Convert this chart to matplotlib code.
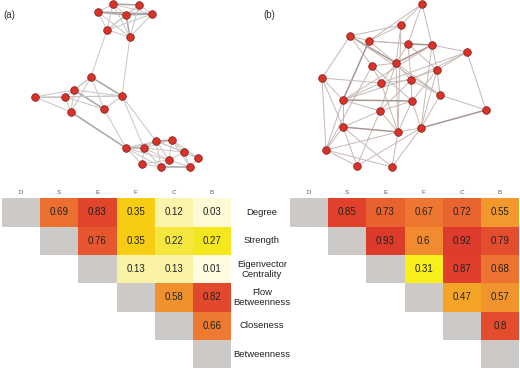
import numpy as np
import matplotlib
matplotlib.use("Agg")
import matplotlib.pyplot as plt
from matplotlib.colors import LinearSegmentedColormap

plt.rcParams['font.family'] = ['Liberation Sans', 'DejaVu Sans']

# ---------------- data ----------------
col_labels = ['D', 'S', 'E', 'F', 'C', 'B']
row_labels = ['Degree', 'Strength', 'Eigenvector\nCentrality', 'Flow\nBetweenness',
              'Closeness', 'Betweenness']

# upper-triangle correlations (values right of the diagonal, per row)
corr_a = [[0.69, 0.83, 0.35, 0.12, 0.03],
          [0.76, 0.35, 0.22, 0.27],
          [0.13, 0.13, 0.01],
          [0.58, 0.82],
          [0.66],
          []]
corr_b = [[0.85, 0.73, 0.67, 0.72, 0.55],
          [0.93, 0.60, 0.92, 0.79],
          [0.31, 0.87, 0.68],
          [0.47, 0.57],
          [0.80],
          []]

# network (a): node positions (layout coordinates) and edges
net_a_x = [113, 139, 98, 126, 152, 107, 130,
           91, 74, 35, 65, 122, 104, 71,
           126, 144, 156, 172, 184, 198, 169, 142, 161, 190]
net_a_y = [4, 5, 12, 15, 14, 30, 37,
           77, 90, 97, 97, 96, 109, 112,
           148, 148, 141, 140, 152, 158, 160, 164, 167, 167]
edges_a = [(0, 1, 2), (0, 2, 1), (0, 3, 1), (0, 4, 1), (1, 3, 1), (1, 4, 1), (2, 3, 2),
           (2, 4, 2), (3, 4, 2), (2, 5, 1), (2, 6, 1), (3, 5, 1), (3, 6, 2), (4, 5, 1),
           (4, 6, 1), (5, 6, 1), (0, 5, 1), (1, 6, 1), (0, 6, 1), (1, 5, 1),
           (7, 8, 1), (7, 11, 2), (7, 10, 1), (7, 12, 1), (7, 13, 1), (8, 9, 1), (8, 10, 1),
           (8, 11, 1), (8, 12, 2), (8, 13, 1), (9, 10, 1), (9, 11, 1), (9, 13, 1),
           (10, 11, 1), (10, 12, 1), (10, 13, 1), (11, 12, 1),
           (14, 15, 2), (14, 16, 1), (14, 17, 1), (14, 21, 1), (14, 22, 1), (14, 20, 1),
           (15, 16, 1), (15, 17, 1), (15, 20, 1), (15, 21, 1), (15, 22, 1), (15, 18, 1),
           (16, 17, 2), (16, 18, 1), (16, 20, 1), (16, 22, 1), (16, 19, 1), (17, 18, 1),
           (17, 19, 1), (17, 20, 1), (17, 23, 1), (18, 19, 1), (18, 20, 1), (18, 23, 1),
           (19, 23, 1), (20, 22, 1), (20, 23, 1), (21, 22, 1), (22, 23, 2), (20, 21, 1),
           (5, 7, 1), (6, 11, 1), (11, 16, 1), (11, 15, 1), (12, 14, 1), (13, 14, 2)]

# network (b)
net_b_x = [422, 401, 350, 369, 408, 432, 467, 396, 372, 437, 322, 411,
           381, 440, 343, 412, 486, 380, 343, 398, 421, 326, 357, 392]
net_b_y = [4, 25, 36, 41, 44, 45, 52, 63, 66, 70, 78, 80,
           83, 95, 100, 101, 110, 111, 127, 132, 128, 150, 166, 167]
edges_b = [(0, 1, 1), (0, 3, 1), (0, 4, 1), (0, 5, 1), (1, 2, 1), (1, 3, 1), (1, 7, 1),
           (1, 19, 1), (2, 3, 1), (2, 10, 1), (2, 8, 1), (2, 7, 2), (2, 13, 1),
           (3, 4, 1), (3, 5, 1), (3, 14, 2), (3, 7, 1), (4, 5, 2), (4, 7, 1), (4, 11, 1),
           (4, 9, 1), (5, 6, 1), (5, 7, 2), (5, 9, 1), (5, 14, 1), (5, 20, 1), (6, 9, 1),
           (6, 16, 1), (6, 11, 1), (6, 12, 1), (7, 8, 1), (7, 11, 1), (7, 13, 1),
           (7, 12, 1), (7, 19, 1), (7, 17, 1), (8, 12, 1), (8, 15, 1), (8, 21, 1),
           (9, 13, 1), (9, 20, 1), (9, 15, 1), (9, 14, 1), (10, 14, 1), (10, 18, 1),
           (10, 21, 1), (10, 12, 1), (11, 15, 1), (11, 12, 1), (11, 13, 1), (11, 17, 1),
           (12, 19, 1), (12, 14, 1), (13, 20, 1), (13, 16, 1), (14, 18, 1), (14, 21, 1),
           (14, 17, 1), (14, 15, 2), (15, 19, 1), (15, 20, 1), (15, 17, 1), (16, 20, 2),
           (17, 19, 1), (17, 18, 1), (17, 22, 1), (18, 19, 2), (18, 21, 1), (18, 22, 1),
           (18, 23, 1), (19, 20, 1), (19, 23, 1), (19, 21, 1), (20, 22, 1), (20, 23, 1),
           (21, 23, 1), (21, 22, 1)]

# ---------------- style ----------------
cmap = LinearSegmentedColormap.from_list('heat', [
    (0.00, '#FFFCE4'), (0.13, '#FAF2A4'), (0.25, '#F4E31E'), (0.31, '#F8EE1C'),
    (0.35, '#F7CC14'), (0.47, '#F4A526'), (0.57, '#F2942E'), (0.68, '#EC7430'),
    (0.76, '#E6562F'), (0.85, '#E0412B'), (1.00, '#D9352A')])
diag_color = '#CDC9C7'
W, H = 520, 370

fig = plt.figure(figsize=(W / 100, H / 100), dpi=100)
ax = fig.add_axes([0, 0, 1, 1])
ax.set_xlim(0, W)
ax.set_ylim(H, 0)
ax.axis('off')


def draw_net(xs, ys, edges, c1, c2):
    for i, j, w in edges:
        ax.plot([xs[i], xs[j]], [ys[i], ys[j]],
                color=c2 if w > 1 else c1,
                lw=1.1 if w > 1 else 0.7, zorder=1, solid_capstyle='round')
    ax.plot(xs, ys, 'o', ms=5.5, mfc='#D8322A', mec='#7E1A14', mew=0.5,
            ls='none', zorder=3)


draw_net(net_a_x, net_a_y, edges_a, '#c8c4c2', '#aaa4a2')
draw_net(net_b_x, net_b_y, edges_b, '#c6b8b4', '#a89894')
ax.text(9, 15, '(a)', fontsize=7, color='#333333', ha='center', va='center')
ax.text(269, 15, '(b)', fontsize=7, color='#333333', ha='center', va='center')


def draw_heat(corr, x0, x1, y0, y1):
    n = len(col_labels)
    cw = (x1 - x0) / n
    rh = (y1 - y0) / n
    for r in range(n):
        # diagonal cell
        ax.add_patch(plt.Rectangle((x0 + r * cw, y0 + r * rh), cw, rh,
                                   facecolor=diag_color, edgecolor='none', zorder=1))
        for k, v in enumerate(corr[r]):
            c = r + 1 + k
            ax.add_patch(plt.Rectangle((x0 + c * cw, y0 + r * rh), cw, rh,
                                       facecolor=cmap(v), edgecolor='none', zorder=1))
            ax.text(x0 + (c + 0.5) * cw, y0 + (r + 0.5) * rh, f'{v:g}',
                    fontsize=7, color='#222222', ha='center', va='center', zorder=2)
    for c, lab in enumerate(col_labels):
        ax.text(x0 + (c + 0.5) * cw, y0 - 6, lab, fontsize=4.5, color='#555555',
                ha='center', va='center')
    return rh


rh = draw_heat(corr_a, 2, 231, 198.3, 368.3)
draw_heat(corr_b, 290, 519, 198.3, 368.3)
for r, lab in enumerate(row_labels):
    ax.text(262, 198.3 + (r + 0.5) * rh, lab, fontsize=6.8, color='#222222',
            ha='center', va='center', linespacing=1.15)

fig.savefig('out.png', dpi=100)
